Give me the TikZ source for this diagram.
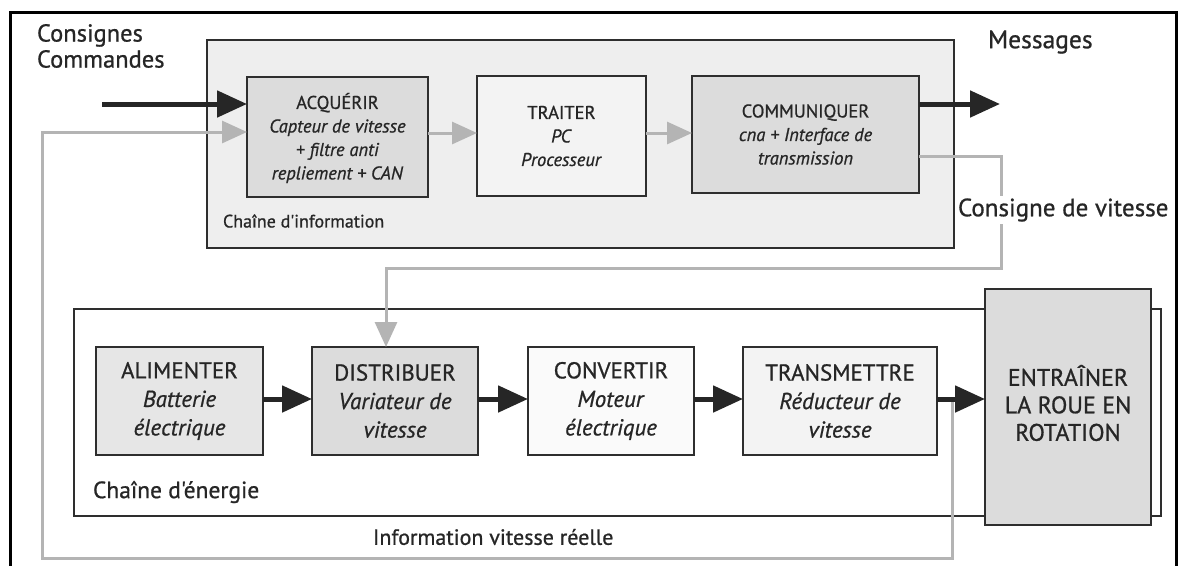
\documentclass[tikz,border=0pt]{standalone}
\usepackage{fontspec}
\setmainfont{PT Sans}
\newfontfamily\ptheavy{PT Sans}[FakeBold=0.8]
\usetikzlibrary{arrows.meta}
\definecolor{txt}{HTML}{262626}
\definecolor{edge}{HTML}{2E2E2E}
\definecolor{arrowc}{HTML}{262626}
\definecolor{sigc}{HTML}{B4B4B4}
\definecolor{infobg}{HTML}{EEEEEE}
\definecolor{grayA}{HTML}{DCDCDC}
\definecolor{grayB}{HTML}{F3F3F3}
\definecolor{grayC}{HTML}{E6E6E6}
\definecolor{grayD}{HTML}{FAFAFA}
\begin{document}
\begin{tikzpicture}[x=1pt,y=-1pt,
  every node/.style={text=txt, inner sep=0pt, outer sep=0pt},
  blk/.style={draw=edge, line width=1.8pt, align=center},
  infob/.style={blk, font=\ptheavy\fontsize{18.5}{23.5}\selectfont},
  nrjb/.style={blk, font=\ptheavy\fontsize{23}{28.5}\selectfont},
  flow/.style={line width=5pt, draw=arrowc, -{Triangle[length=30pt,width=26pt]}},
  sig/.style={line width=3pt, draw=sigc, -{Triangle[length=25pt,width=22pt]}},
]
\useasboundingbox (0,0) rectangle (1183,565);
% outer frame
\draw[line width=3pt, black] (10,570) -- (10,12) -- (1176,12) -- (1176,570);

% information chain
\node[blk, fill=infobg, minimum width=747pt, minimum height=208pt] (infochain) at (580.5,144) {};
\node[infob, fill=grayA, minimum width=181pt, minimum height=120pt] (acq) at (337.5,137) {};
\node[font=\ptheavy\fontsize{18.5}{23.5}\selectfont, align=center] (acqt) at (337.5,138) {ACQUÉRIR\\\textit{Capteur de vitesse}\\\textit{+ filtre anti}\\\textit{repliement + CAN}};
\node[infob, fill=grayB, minimum width=169pt, minimum height=120pt] (trt) at (561.5,136) {TRAITER\\\textit{PC}\\\textit{Processeur}};
\node[infob, fill=grayA, minimum width=227pt, minimum height=117pt] (comm) at (805.5,134.5) {COMMUNIQUER\\\textit{cna + Interface de}\\\textit{transmission}};
\node[font=\ptheavy\fontsize{18}{22}\selectfont, anchor=west] (infolbl) at (223,221) {Chaîne d'information};

% energy chain
\node[blk, fill=white, minimum width=1087pt, minimum height=207pt] (nrjchain) at (617.5,412.5) {};
\node[nrjb, fill=grayC, minimum width=167pt, minimum height=108pt] (ali) at (179.5,401) {ALIMENTER\\\textit{Batterie}\\\textit{électrique}};
\node[nrjb, fill=grayA, minimum width=166pt, minimum height=108pt] (dis) at (395,401) {DISTRIBUER\\\textit{Variateur de}\\\textit{vitesse}};
\node[nrjb, fill=grayD, minimum width=166pt, minimum height=108pt] (conv) at (611,401) {CONVERTIR\\\textit{Moteur}\\\textit{électrique}};
\node[nrjb, fill=grayB, minimum width=194pt, minimum height=108pt] (trans) at (840,401) {TRANSMETTRE\\\textit{Réducteur de}\\\textit{vitesse}};
\node[blk, fill=grayA, minimum width=166pt, minimum height=236pt] (entr) at (1068,407) {};
\node[font=\ptheavy\fontsize{24}{27.5}\selectfont, align=center] (entrt) at (1068,403) {ENTRAÎNER\\LA ROUE EN\\ROTATION};
\node[font=\ptheavy\fontsize{23.5}{26}\selectfont, anchor=west] (nrjlbl) at (93,492) {Chaîne d'énergie};

% free labels
\node[font=\ptheavy\fontsize{24.5}{26}\selectfont, align=left, anchor=west] (cons) at (37,46) {Consignes\\Commandes};
\node[font=\ptheavy\fontsize{25.5}{28}\selectfont, anchor=west] (msg) at (988,42) {Messages};
\node[font=\ptheavy\fontsize{22}{26}\selectfont, anchor=west] (infovit) at (373,537) {Information vitesse réelle};

% coordinates
\coordinate (cin) at (102,104);
\coordinate (mout) at (1000,104);
\coordinate (ya) at (0,133);
\coordinate (k0) at (0,156);
\coordinate (k1) at (1001,156);
\coordinate (k2) at (1001,268);
\coordinate (k3) at (386,268);
\coordinate (fb0) at (952,399);
\coordinate (fb1) at (952,558);
\coordinate (fb2) at (42,558);
\coordinate (fb3) at (42,132);

% gray signal connectors
\draw[sig] (acq.east |- ya) -- (trt.west |- ya);
\draw[sig] (trt.east |- ya) -- (comm.west |- ya);
\draw[sig] (comm.east |- k0) -- (k1) -- (k2) -- (k3) -- (k3 |- dis.north);
\draw[sig] (fb0) -- (fb1) -- (fb2) -- (fb3) -- (acq.west |- fb3);
\node[font=\ptheavy\fontsize{25}{28}\selectfont, anchor=west, fill=white, inner ysep=2pt] (consv) at (958,210) {Consigne de vitesse};

% power / main flow arrows
\draw[flow] (cin) -- (cin -| acq.west);
\draw[flow] (comm.east |- mout) -- (mout);
\draw[flow] (ali.east |- fb0) -- (dis.west |- fb0);
\draw[flow] (dis.east |- fb0) -- (conv.west |- fb0);
\draw[flow] (conv.east |- fb0) -- (trans.west |- fb0);
\draw[flow] (trans.east |- fb0) -- (entr.west |- fb0);
\end{tikzpicture}
\end{document}
